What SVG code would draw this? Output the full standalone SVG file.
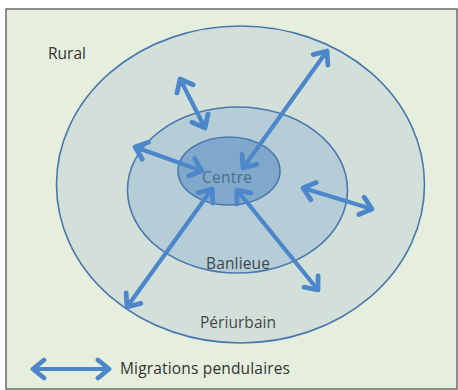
<svg xmlns="http://www.w3.org/2000/svg" width="458" height="390" viewBox="0 0 458 390">
<style>
.zone{stroke:#4a78ae;stroke-width:1.6}
.lbl{font-family:"Open Sans","Liberation Sans",sans-serif;font-size:15.5px}
.arr{stroke:#4d87cb;stroke-width:4.2;fill:none;marker-start:url(#hd);marker-end:url(#hd)}
</style>
<defs>
<marker id="hd" markerUnits="userSpaceOnUse" viewBox="-16 -12 20 24" refX="0" refY="0" markerWidth="20" markerHeight="24" orient="auto-start-reverse">
<path d="M -11 -9 L 0 0 L -11 9" fill="none" stroke="#4d87cb" stroke-width="4.8" stroke-linecap="round" stroke-linejoin="round"/>
</marker>
</defs>
<rect x="6" y="9" width="451" height="380" fill="#e6efdd" stroke="#6b6b6b" stroke-width="1.5"/>
<g id="rural"><text class="lbl" x="48" y="59" font-size="15" fill="#333">Rural</text></g>
<g id="periurbain">
<ellipse class="zone" cx="240.5" cy="184.5" rx="184" ry="158.5" fill="#d3e0da"/>
<text class="lbl" x="238" y="328" text-anchor="middle" fill="#44484c" textLength="76">Périurbain</text>
</g>
<g id="banlieue">
<ellipse class="zone" cx="237.5" cy="190" rx="110" ry="83" fill="#b5cdd6"/>
<text class="lbl" x="238" y="269" text-anchor="middle" fill="#3f4752" textLength="64">Banlieue</text>
</g>
<g id="centre">
<ellipse class="zone" cx="229" cy="171" rx="51" ry="34" fill="#80a8cb"/>
<text class="lbl" x="227" y="183" text-anchor="middle" fill="#4e6e90" textLength="50">Centre</text>
</g>
<g id="connectors">
<line class="arr" x1="180" y1="79" x2="205" y2="128"/>
<line class="arr" x1="327" y1="51" x2="243" y2="168"/>
<line class="arr" x1="135" y1="147" x2="202" y2="171"/>
<line class="arr" x1="303" y1="188" x2="372" y2="209"/>
<line class="arr" x1="212" y1="189" x2="127" y2="307"/>
<line class="arr" x1="237" y1="190" x2="318" y2="290"/>
</g>
<g id="legend">
<line class="arr" x1="33" y1="369" x2="109" y2="369"/>
<text class="lbl" x="120" y="374" font-size="16" fill="#333" textLength="170">Migrations pendulaires</text>
</g>
</svg>
